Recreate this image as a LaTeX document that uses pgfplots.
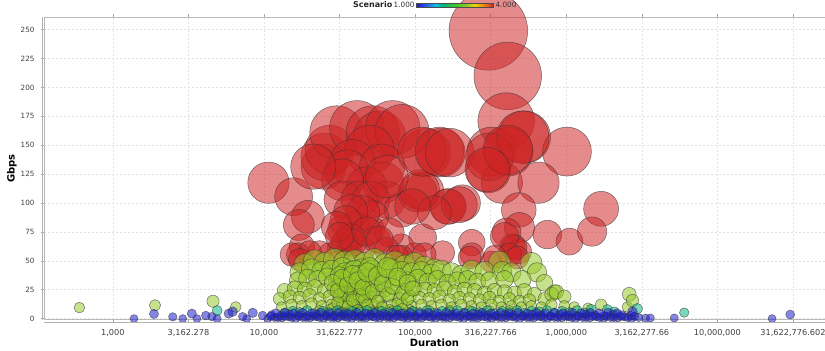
\documentclass[border=0pt]{standalone}
\usepackage{pgfplots}
\pgfplotsset{compat=1.18}
\usepackage{pgfplotstable}
\usepackage{fontspec}
\usetikzlibrary{calc}
\setmainfont{DejaVu Sans}

\pgfplotsset{
  colormap={scenario}{
    rgb255(0cm)=(25,25,205)
    rgb255(2cm)=(40,120,240)
    rgb255(3cm)=(0,200,230)
    rgb255(4cm)=(0,180,130)
    rgb255(6cm)=(60,200,40)
    rgb255(8cm)=(150,200,40)
    rgb255(9cm)=(235,215,0)
    rgb255(10.5cm)=(240,130,20)
    rgb255(12cm)=(205,35,35)
  },
  bubble/.style={
    scatter, only marks, mark=*,
    point meta=\thisrow{s},
    visualization depends on={\thisrow{gbps} \as \gb},
    scatter/use mapped color={draw=black!80, fill=mapped color},
    scatter/@pre marker code/.append style={/tikz/mark size=4+0.142*\gb},
    mark options={fill opacity=0.53, draw opacity=0.68, line width=0.5pt},
  },
}

% Scenario 4
\pgfplotstableread{
dur gbps s
305000 249 4
410000 210 4
400000 171 4
528000 157 4
1010000 144.5 4
320000 144.5 4
415000 144.5 4
305000 128 4
375000 117.6 4
655000 117.6 4
148000 143.6 4
118000 143.6 4
485000 94 4
1700000 95 4
164000 97 4
205000 100 4
115000 110 4
10700 117.6 4
15700 105.5 4
19500 88 4
17000 81 4
17800 62.3 4
16800 55.4 4
24800 131.5 4
25200 140 4
27200 146 4
30200 161 4
41200 165 4
52500 161 4
58200 157 4
71000 165 4
82000 162 4
50000 146 4
38500 135 4
35500 127 4
60500 131.5 4
61500 117.6 4
47700 114 4
33100 120 4
33100 103 4
65000 103 4
42900 103 4
51200 103 4
81000 94 4
104000 109 4
107000 111.6 4
111000 144.5 4
145000 144.5 4
169000 143.6 4
166000 97 4
196000 98.6 4
310000 140 4
515000 157 4
410000 146 4
300000 129 4
490000 78.7 4
402000 74.4 4
440000 62.3 4
750000 72.7 4
1050000 66.6 4
1480000 75.3 4
237000 65.7 4
237000 55.4 4
112000 70 4
152000 57 4
81000 62.3 4
99000 55.4 4
33100 77 4
36800 71 4
40500 79.6 4
50000 77 4
52000 88 4
45000 91.7 4
55500 68.3 4
36800 62.3 4
45000 59.7 4
31600 59.7 4
27200 55.4 4
23300 57 4
20000 57 4
15300 55.4 4
67800 74.4 4
65000 59.7 4
81000 53.6 4
21200 131.5 4
65000 123 4
37500 92.6 4
34700 84 4
37500 70 4
34100 65.7 4
39000 65.7 4
490000 58 4
454000 61.4 4
320000 49 4
390000 71 4
421000 55.4 4
475000 52.8 4
338000 53.6 4
229000 52.8 4
115000 55.4 4
17200 51 4
30200 79.6 4
31600 71 4
47700 75.3 4
58200 68.3 4
76000 53.6 4
134000 91.7 4
96000 97 4
}\scenfour

% Scenario 3
\pgfplotstableread{
dur gbps s
18600 47 3
21600 50 3
25200 48 3
29300 51 3
34100 49 3
39700 50 3
46300 48 3
53900 51 3
62800 47 3
73100 49 3
85100 46 3
99100 48 3
115000 45 3
134000 43 3
361000 49 3
587000 48 3
17200 40 3
20600 43 3
24000 41 3
28000 42 3
33000 44 3
37900 41 3
44200 43 3
51500 42 3
60000 40 3
69900 43 3
81300 41 3
94600 40 3
110000 41 3
128000 39 3
149000 42 3
174000 40 3
202000 38 3
236000 42 3
288000 41 3
375000 41 3
433000 40 3
640000 40 3
16800 33 3
19400 35 3
22600 34 3
26300 36 3
30500 33 3
35500 35 3
41500 34 3
48500 36 3
56500 33 3
65800 35 3
76600 34 3
89100 33 3
104000 35 3
121000 32 3
140000 34 3
164000 31 3
190000 33 3
222000 34 3
258000 32 3
310000 33 3
390000 34 3
512000 34 3
716000 31 3
13700 24 3
16000 26 3
18600 25 3
21600 27 3
25200 24 3
29300 26 3
34100 25 3
39700 27 3
46300 24 3
53900 26 3
62800 25 3
73100 27 3
85100 24 3
99100 26 3
115000 25 3
134000 24 3
156000 26 3
182000 23 3
212000 25 3
247000 24 3
288000 22 3
335000 24 3
390000 23 3
454000 22 3
528000 24 3
615000 21 3
834000 23 3
12700 17 3
14800 19 3
17200 18 3
20000 20 3
23300 17 3
27200 19 3
31600 18 3
36800 20 3
42900 17 3
50000 19 3
58200 18 3
67800 20 3
78900 17 3
91800 19 3
107000 18 3
124000 17 3
145000 19 3
169000 16 3
196000 18 3
229000 17 3
267000 16 3
310000 18 3
361000 15 3
421000 17 3
490000 15 3
570000 16 3
716000 17 3
800000 21 3
860000 23 3
971000 19 3
2610000 21 3
13100 10 3
15200 12 3
17800 11 3
20600 13 3
24000 11 3
28000 12 3
33000 13 3
37900 11 3
44200 12 3
51500 13 3
60000 11 3
69900 12 3
81300 13 3
94600 11 3
110000 12 3
128000 11 3
149000 12 3
174000 10 3
202000 12 3
236000 11 3
275000 10 3
320000 12 3
372000 10 3
433000 11 3
504000 10 3
587000 11 3
684000 10 3
797000 12 3
971000 11 3
1130000 10 3
1390000 9 3
1700000 12 3
2540000 10 3
2740000 15.6 3
23300 7 3
27200 8 3
31600 7 3
36800 8 3
42900 7 3
50000 8 3
58200 7 3
67800 8 3
78900 7 3
91800 8 3
124000 7 3
169000 7 3
229000 7 3
310000 7 3
421000 7 3
34100 40 3
34100 30 3
34100 21 3
34100 14 3
36800 36 3
36800 27 3
36800 18 3
39700 42 3
39700 32 3
39700 23 3
39700 15 3
42900 38 3
42900 28 3
42900 20 3
46300 35 3
46300 25 3
46300 16 3
50000 44 3
50000 30 3
50000 22 3
31600 37 3
31600 28 3
31600 20 3
28400 9 3
28400 31 3
30700 14 3
30700 24 3
33100 6 3
33100 35 3
35700 11 3
35700 29 3
38600 16 3
38600 38 3
41600 8 3
41600 33 3
44900 19 3
44900 27 3
48400 12 3
48400 40 3
52200 6 3
52200 23 3
56400 15 3
56400 37 3
60900 10 3
60900 30 3
65800 21 3
65800 44 3
71000 7 3
71000 28 3
76600 13 3
76600 36 3
82600 9 3
82600 22 3
89100 17 3
89100 31 3
96100 6 3
96100 26 3
600 9.5 3
1900 11.5 3
4600 15 3
6500 10 3
}\scenthree

% Scenario 2
\pgfplotstableread{
dur gbps s
4900 7 2
13700 5 2
15500 6.5 2
17200 5.5 2
19300 7 2
21600 4.5 2
24300 6.5 2
27200 5.5 2
30500 7 2
34100 5 2
38300 6.5 2
42900 6 2
48000 7 2
53900 5 2
60300 6.5 2
67800 5.5 2
75900 7 2
85100 4.5 2
95500 6.5 2
107000 5.5 2
120000 7 2
134000 5 2
151000 6.5 2
169000 6 2
190000 7 2
212000 5 2
238000 6.5 2
267000 5.5 2
299000 7 2
335000 4.5 2
376000 6.5 2
421000 5.5 2
472000 7 2
528000 5 2
592000 6.5 2
664000 6 2
745000 7 2
834000 5 2
935000 6.5 2
1050000 5.5 2
1180000 7 2
1320000 5 2
1460000 8 2
1870000 7.8 2
2080000 6 2
2950000 8.6 2
6030000 5.2 2
}\scentwo

% Scenario 1
\pgfplotstableread{
dur gbps s
1380 0 1
1870 4 1
2490 1.5 1
2900 0 1
3330 4.3 1
3600 0 1
4120 2.6 1
4520 1.7 1
4900 0 1
5830 4.3 1
6200 6 1
7220 1.7 1
7690 0 1
8420 5 1
9790 2.6 1
10580 0 1
11770 1 1
13090 0.5 1
14570 1.5 1
16210 0 1
18030 1 1
20060 0.5 1
22310 1.5 1
24820 0 1
27620 1 1
30720 0.5 1
34180 1.5 1
38020 0 1
42300 1 1
47060 0.5 1
52350 1.5 1
58240 0 1
64790 1 1
72080 0.5 1
80190 1.5 1
89210 0 1
99240 1 1
110400 0.5 1
122800 1.5 1
136600 0 1
152000 1 1
169100 0.5 1
188100 1.5 1
209300 0 1
232800 1 1
259000 0.5 1
288200 1.5 1
320600 0 1
356600 1 1
396800 0.5 1
441400 1.5 1
491000 0 1
546300 1 1
607700 0.5 1
676100 1.5 1
752100 0 1
836700 1 1
930800 0.5 1
1035500 1.5 1
1152000 0 1
1281600 1 1
1425800 0.5 1
1586200 1.5 1
1764600 0 1
1963100 1 1
2184000 0.5 1
2429600 1.5 1
2702900 0 1
3007000 1 1
3345000 0.5 1
11240 3 1
12890 2.5 1
14780 3.5 1
16950 3 1
19430 2.5 1
22290 3.5 1
25550 3 1
29300 2.5 1
33600 3.5 1
38530 3 1
44190 2.5 1
50670 3.5 1
58100 3 1
66630 2.5 1
76400 3.5 1
87610 3 1
100500 2.5 1
115200 3.5 1
132100 3 1
151500 2.5 1
173700 3.5 1
199200 3 1
228400 2.5 1
261900 3.5 1
300300 3 1
344400 2.5 1
394900 3.5 1
452800 3 1
519300 2.5 1
595400 3.5 1
682800 3 1
783000 2.5 1
897800 3.5 1
1029500 3 1
1180600 2.5 1
1353800 3.5 1
1552400 3 1
1780200 2.5 1
2041400 3.5 1
2340900 3 1
2684300 2.5 1
11080 2 1
12330 1 1
13710 2 1
15260 1 1
16970 2 1
18880 1 1
21010 2 1
23370 1 1
26000 2 1
28930 1 1
32180 2 1
35800 1 1
39830 2 1
44310 1 1
49300 2 1
54840 1 1
61010 2 1
67880 1 1
75510 2 1
84010 1 1
93460 2 1
103970 1 1
115700 2 1
128700 1 1
143200 2 1
159300 1 1
177200 2 1
197100 1 1
219300 2 1
244000 1 1
271400 2 1
301900 1 1
335900 2 1
373700 1 1
415700 2 1
462500 1 1
514500 2 1
572400 1 1
636800 2 1
708400 1 1
788100 2 1
876800 1 1
975400 2 1
1085000 1 1
1207000 2 1
1343000 1 1
1494000 2 1
1662000 1 1
1849000 2 1
2057000 1 1
2289000 2 1
2546000 1 1
2833000 2 1
11950 4.5 1
13700 5 1
15710 4.5 1
18020 5 1
20660 4.5 1
23690 5 1
27170 4.5 1
31150 5 1
35720 4.5 1
40960 5 1
46970 4.5 1
53860 5 1
61760 4.5 1
70820 5 1
81210 4.5 1
93120 5 1
106800 4.5 1
122400 5 1
140400 4.5 1
161000 5 1
184600 4.5 1
211700 5 1
242700 4.5 1
278300 5 1
319100 4.5 1
365900 5 1
419600 4.5 1
481200 5 1
551800 4.5 1
632700 5 1
725500 4.5 1
831900 5 1
953900 4.5 1
1093900 5 1
1254300 4.5 1
1438300 5 1
1649300 4.5 1
1891200 5 1
2168600 4.5 1
2740000 6 1
3600000 0.5 1
5180000 0.5 1
23000000 0 1
30300000 3.5 1
}\scenone

\begin{document}
\begin{tikzpicture}
\begin{axis}[
  name=main,
  scale only axis, width=782pt, height=303pt,
  xmode=log, xmin=350, xmax=5.15e7,
  ymin=-0.9, ymax=261,
  xtick={1000,3162.278,10000,31622.777,100000,316227.766,1000000,3162277.66,10000000,31622776.6},
  xticklabels={{1,000},{3,162.278},{10,000},{31,622.777},{100,000},{316,227.766},{1,000,000},{3,162,277.66},{10,000,000},{31,622,776.602}},
  xminorticks=false,
  ytick={0,25,...,250},
  /pgf/number format/assume math mode=true,
  tick align=outside, major tick length=3pt,
  tick style={gray!70, line width=0.5pt},
  ticklabel style={text=black!75},
  xticklabel style={font=\fontsize{8.2}{9}\selectfont, yshift=-3pt},
  yticklabel style={font=\fontsize{7.2}{9}\selectfont, xshift=-3pt},
  grid=major,
  major grid style={dash pattern=on 2pt off 2pt, draw=gray!22, line width=0.5pt},
  axis line style={gray!55, line width=0.6pt},
  xlabel={\bfseries Duration},
  ylabel={\bfseries Gbps},
  label style={font=\fontsize{8}{10}\selectfont, text=black!85},
  every axis x label/.style={at={(axis description cs:0.5,-0.076)}, anchor=center},
  every axis y label/.style={at={(axis description cs:-0.041,0.5)}, anchor=center, rotate=90},
  colormap name=scenario,
  point meta min=1, point meta max=4,
  colorbar horizontal,
  colorbar style={
    at={($(parent axis.north west)+(373pt,18pt)$)}, anchor=south west,
    scale only axis, width=77pt, height=4pt,
    xtick=\empty, ytick=\empty,
    axis line style={black!70, line width=0.4pt},
  },
]
\addplot[bubble] table[x=dur, y=gbps] {\scenfour};
\addplot[bubble] table[x=dur, y=gbps] {\scenthree};
\addplot[bubble] table[x=dur, y=gbps] {\scentwo};
\addplot[bubble] table[x=dur, y=gbps] {\scenone};
\end{axis}
% offset axis lines
\draw[gray!60, line width=0.6pt] ([xshift=-2pt]main.south west) -- ([xshift=-2pt]main.north west);
\draw[gray!60, line width=0.6pt] ([yshift=-2.5pt]main.south west) -- ([yshift=-2.5pt]main.south east);
% colour scale captions
\node[anchor=east, inner sep=0pt, font=\bfseries\fontsize{8}{10}\selectfont, text=black!85] at ([xshift=349pt, yshift=12pt]main.north west) {Scenario};
\node[anchor=west, inner sep=0pt, font=\fontsize{7.3}{9}\selectfont, text=black!80] at ([xshift=350pt, yshift=12pt]main.north west) {1.000};
\node[anchor=west, inner sep=0pt, font=\fontsize{7.3}{9}\selectfont, text=black!80] at ([xshift=452pt, yshift=12pt]main.north west) {4.000};
\pgfresetboundingbox
\useasboundingbox ([xshift=-44pt, yshift=-31pt]main.south west) rectangle ([yshift=17pt]main.north east);
\end{tikzpicture}
\end{document}
